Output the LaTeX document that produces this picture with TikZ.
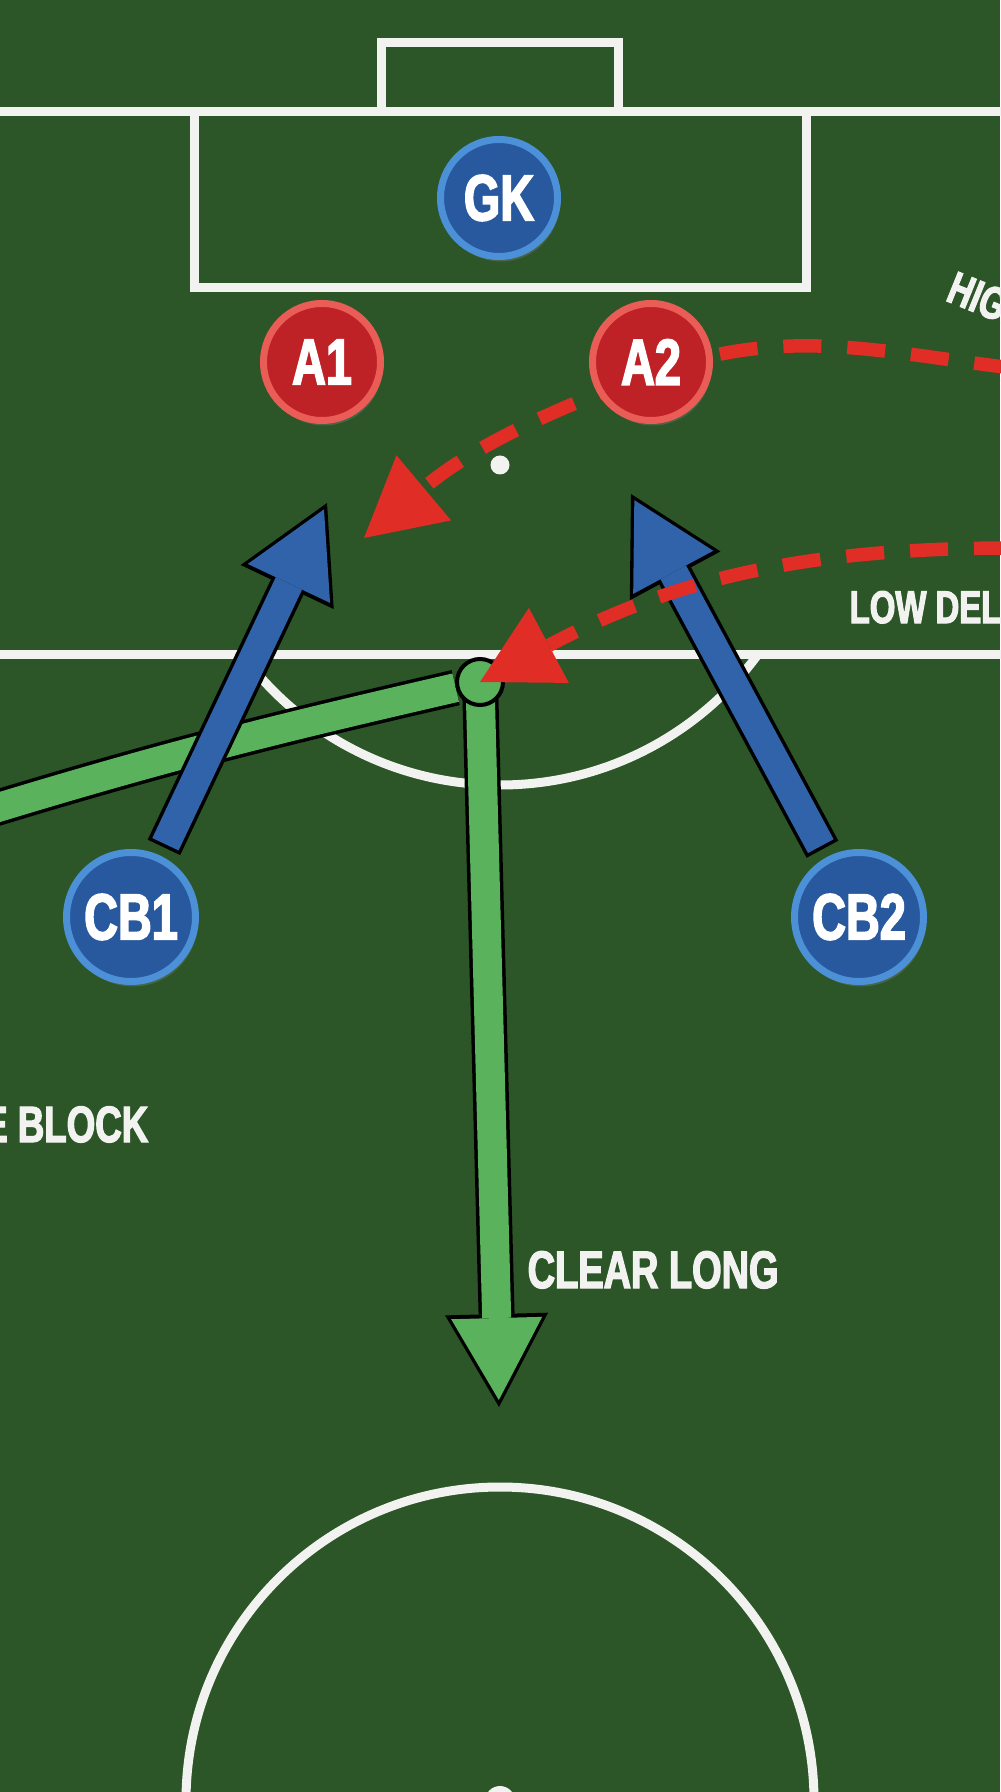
\documentclass[tikz,border=0pt]{standalone}
\usepackage{fontspec}
\newfontfamily\boardfont[FakeStretch=0.72, FakeBold=2.5]{Liberation Sans}
\usetikzlibrary{arrows.meta, shadows}

\definecolor{turf}{RGB}{44,86,40}
\definecolor{chalk}{RGB}{242,243,240}
\definecolor{keeperblue}{RGB}{40,88,158}
\definecolor{keeperring}{RGB}{76,145,216}
\definecolor{raidred}{RGB}{190,34,38}
\definecolor{raidring}{RGB}{234,92,86}
\definecolor{runblue}{RGB}{48,99,170}
\definecolor{passgreen}{RGB}{90,178,92}
\definecolor{crossred}{RGB}{224,45,38}

\pgfdeclarelayer{field}
\pgfdeclarelayer{moves}
\pgfdeclarelayer{balls}
\pgfdeclarelayer{crosses}
\pgfsetlayers{field,moves,balls,crosses,main}

\tikzset{
  chalkline/.style={draw=chalk, line width=0.9mm},
  player/.style={circle, inner sep=0pt, line width=0.7mm, minimum size=11.7mm, text=white,
    drop shadow={opacity=0.35, shadow xshift=0.2mm, shadow yshift=-0.5mm},
    font=\boardfont\bfseries\fontsize{18.5}{20}\selectfont},
  defender/.style={player, fill=keeperblue, draw=keeperring},
  attacker/.style={player, fill=raidred, draw=raidring},
  ballmark/.style={circle, inner sep=0pt, minimum size=4.6mm, fill=passgreen, draw=black, line width=0.4mm},
  fat/.style 2 args={draw=#1, line width=2.9mm, shorten <=#2+0.35mm, shorten >=0.7mm,
    -{Triangle[length=8.2mm, width=9.1mm, line width=0pt]},
    preaction={draw=black, line width=3.6mm, shorten <=#2, shorten >=0pt,
      -{Triangle[length=9.3mm, width=10.3mm, line width=0pt]}}},
  fatline/.style={draw=#1, line width=2.9mm, preaction={draw=black, line width=3.6mm}},
  cross/.style={draw=crossred, line width=1.35mm, dash pattern=on 3.8mm off 2.6mm,
    -{Triangle[length=7.8mm, width=8.5mm, line width=0pt]}},
  note/.style={text=chalk, inner sep=0pt, font=\boardfont\bfseries\fontsize{#1}{#1}\selectfont}
}

\begin{document}
\begin{tikzpicture}[x=0.1mm, y=-0.1mm]
\useasboundingbox (0,0) rectangle (1000,1792);
\begin{pgfonlayer}{field}
\fill[turf] (0,0) rectangle (1000,1792);
\draw[chalkline] (381,112) |- (618,43) -- (618,112);
\draw[chalkline] (-10,112) -- (1010,112);
\draw[chalkline] (194,112) |- (806,288) -- (806,112);
\draw[chalkline] (-10,655) -- (1010,655);
\begin{scope}
\clip (0,655) rectangle (1000,900);
\draw[chalkline] (500,465) circle[radius=320];
\end{scope}
\fill[chalk] (500,465) circle[radius=9.5];
\draw[chalkline] (500,1801) circle[radius=314];
\fill[chalk] (500,1801) circle[radius=15];
\end{pgfonlayer}

\node[defender] (GK) at (499,198) {GK};
\node[attacker] (A1) at (322,362) {A1};
\node[attacker] (A2) at (651,362) {A2};
\node[defender, minimum size=12.9mm] (CB1) at (131,917) {CB1};
\node[defender, minimum size=12.9mm] (CB2) at (859,917) {CB2};

\begin{pgfonlayer}{balls}
\node[ballmark] (ball) at (480,682) {};
\end{pgfonlayer}

\coordinate (passin) at (-20,813);
\coordinate (cleartip) at (499,1407);
\coordinate (cb1tip) at (327,503);
\coordinate (cb2tip) at (631,494);
\coordinate (highin) at (1012,368);
\coordinate (highvia) at (650,374);
\coordinate (hightip) at (364,538);
\coordinate (lowin) at (1012,548);

\begin{pgfonlayer}{moves}
\draw[fatline=passgreen] (passin) to[out=17, in=193] (ball);
\draw[fat={passgreen}{0mm}] (ball.center) -- (cleartip);
\draw[fat={runblue}{0.9mm}] (CB1) -- (cb1tip);
\draw[fat={runblue}{0.9mm}] (CB2) -- (cb2tip);
\end{pgfonlayer}

\begin{pgfonlayer}{crosses}
\draw[cross] (highin) to[out=173, in=20] (highvia) to[out=200, in=40] (hightip);
\draw[cross] (lowin) to[out=180, in=28] (ball.center);
\end{pgfonlayer}

\node[note=15, anchor=base west] (clearlong) at (527,1288) {CLEAR LONG};
\node[note=14.5, anchor=base east] (zoneblock) at (149,1142) {ZONE BLOCK};
\node[note=13, anchor=base west] (lowdelivery) at (849,623) {LOW DELIVERY};
\node[note=13, anchor=base west, rotate=-22] (highdelivery) at (944,300) {HIGH DELIVERY};
\end{tikzpicture}
\end{document}
